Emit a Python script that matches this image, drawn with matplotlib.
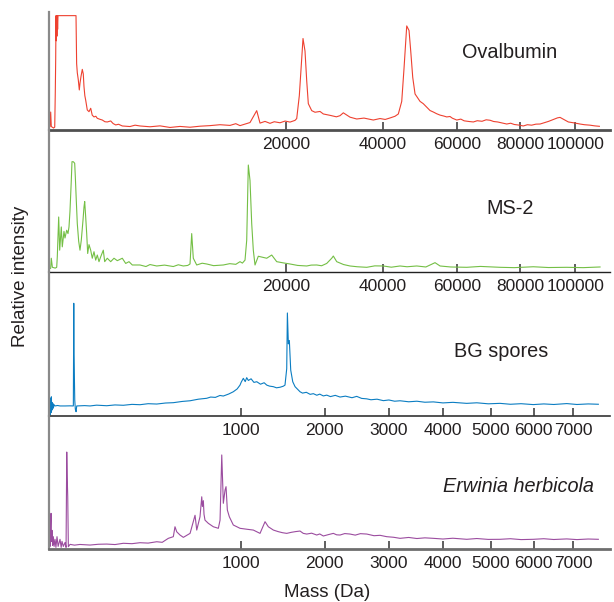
import numpy as np
import matplotlib
matplotlib.use("Agg")
import matplotlib.pyplot as plt

plt.rcParams['font.family'] = ['Liberation Sans', 'DejaVu Sans']

######################################################################
# Spectra: mass (Da) and relative intensity (%)
ova_mass = [-4.2, -2.1, -1.06, -0.44, 0.5, 2.0, 3.08, 4.0, 4.8, 5.56, 6.5, 7.5, 8.78, 10, 11.5,
            204, 215, 227, 245, 265, 279, 300, 327, 349, 365, 385, 406, 445, 490, 537, 580, 633,
            690, 737, 820, 911, 1010, 1102, 1243, 1350, 1466, 1600, 1787, 2200, 2500, 2807, 3484,
            4235, 5059, 5956, 6926, 7969, 9085, 10274, 11537, 12300, 12873, 14281, 15267, 15764,
            16531, 17318, 18000, 18947, 19800, 20650, 21527, 21830, 22296, 22968, 23336, 23652,
            23951, 24592, 25222, 26190, 26841, 28184, 29500, 30252, 30951, 32393, 33867, 35500,
            37663, 39255, 40500, 41687, 42932, 43761, 44626, 45216, 45912, 46510, 46955, 47481,
            48092, 49426, 50300, 51243, 52153, 53066, 54000, 54953, 56000, 56863, 57800, 58500,
            59785, 61000, 62000, 63500, 64796, 66000, 67500, 68800, 70045, 71200, 72500, 74000,
            75488, 76800, 78000, 79500, 81105, 82500, 84000, 85500, 86966, 88500, 90000, 91200,
            92398, 93300, 94243, 95500, 96400, 97350, 98500, 99500, 100600, 101818, 103500,
            105700, 107500, 109408]
ova_int = [2, 3, 15.7, 3, 1.7, 2.5, 33, 62, 100, 78, 100, 82, 100, 88, 100,
           100, 58, 50, 44, 35, 41, 47, 53, 49, 38, 30, 26, 17.5, 16, 19, 13, 11.4,
           12, 10.2, 9.4, 8.7, 7.2, 7, 7.9, 5.6, 4.4, 5, 3.5, 3.0, 4.2, 3.5, 2.8,
           3.6, 2.2, 3.1, 2.4, 3.3, 3.8, 4.6, 4.0, 5.5, 3.8, 6.5, 16.9, 6,
           7.5, 5.8, 7.2, 6.3, 7.8, 6.9, 8.4, 10, 30, 80, 69, 43,
           23, 16.9, 15.5, 16.2, 14, 12.8, 11.5, 12.5, 15, 11.2, 9.6, 10.4,
           8.7, 10, 9.2, 10.5, 12, 14, 25, 54, 91, 87, 69, 46,
           31.5, 25, 23, 20, 17, 15.7, 14.2, 13, 12.2, 11.4, 11.8, 10.3,
           8.7, 9.5, 8, 7.4, 7, 8.1, 7.6, 8.9, 8.5, 7.4, 7, 6.1,
           5.2, 5.9, 4.8, 4.3, 3.5, 4.6, 4.2, 5.1, 5.2, 6.4, 7.5, 8.6,
           9.6, 10.6, 11, 9.4, 8.3, 7, 6.6, 6.2, 5.7, 5.2, 4.6,
           4.2, 3.6, 3.2]

ms2_mass = [-4.2, -1.06, -0.44, 0, 3, 6.8, 8.8, 14.5, 19.5, 29, 35.8, 49.2, 58, 74.8, 89, 100.8,
            113, 130.7, 140.5, 159.8, 181.9, 191.8, 208.9, 226.8, 253, 278.6, 305.5, 342.5, 365.2,
            381.6, 405.6, 430.3, 455.8, 490, 536.5, 582, 633, 685.7, 737.4, 794.4, 853.3, 947.6,
            1000.5, 1102, 1243, 1388, 1541, 1787, 1965, 2146, 2335, 2807, 3200, 3484, 3979, 4600,
            5346, 5800, 6267, 6700, 6926, 7097, 7261, 7616, 8200, 8709, 9500, 10683, 11500, 12300,
            12873, 13200, 13568, 13808, 14037, 14281, 14528, 14762, 15013, 15505, 16797, 17590,
            18401, 19500, 20650, 22000, 23652, 24500, 25549, 26500, 27519, 28531, 28860, 29563,
            31000, 32393, 34000, 36131, 38000, 40048, 42000, 44193, 46000, 48541, 51000, 53541,
            54953, 58000, 62780, 67000, 73284, 78000, 84588, 90000, 96746, 103000, 109674]
ms2_int = [3, 3.6, 12.7, 4.5, 3.8, 4.5, 14, 50, 20, 41, 23, 37, 31, 38, 35, 41,
           55, 83, 100, 100, 98.6, 87, 65, 44, 28, 20, 29, 47, 59,
           64, 50, 35, 17, 25, 20, 12.7, 18.6, 11, 15.6, 9.6, 14, 20,
           9.6, 12.7, 9.6, 12.7, 10.5, 12.7, 8, 9.6, 6.6, 6.6, 5.2, 7, 5.7, 6.5,
           5.2, 6.8, 5.7, 6.2, 7.5, 35, 12.7, 6.6, 8.2, 7.5, 6, 6.6, 7.8, 7.2,
           9.6, 8.3, 11, 29, 97, 83, 44, 20, 6.6, 14.5, 12.7, 15.6,
           9.6, 8.5, 7.5, 6.2, 5.7, 6.5, 6.6, 5.9, 8, 12.7, 14.7, 9.6,
           7, 5.7, 5, 4.5, 5.8, 5.7, 4.6, 5.7, 5, 5.7, 4.8, 8.7,
           5.7, 4.8, 4.5, 5.3, 4.5, 4.2, 5, 4.3, 4.5, 4.2, 4.8]

bg_mass = [2.2, 2.36, 2.5, 2.7, 2.9, 3.1, 3.25, 3.45, 3.65, 3.84, 4.1, 4.4, 4.68, 5.2, 5.9, 8,
           10.3, 16, 22.9, 28.1, 28.5, 28.8, 29.2, 30.5, 31.5, 32.8, 34, 50, 62.7, 80, 111, 140,
           172.6, 210, 248, 290, 337.7, 390, 440, 500, 557, 620, 687, 720, 760, 800, 830, 880, 923,
           960, 988, 1000, 1021, 1040, 1055, 1072, 1100, 1130, 1160, 1200, 1240, 1269, 1300, 1344,
           1380, 1422, 1460, 1481, 1502, 1510, 1522, 1534, 1551, 1576, 1605, 1668, 1700, 1750,
           1800, 1843, 1890, 1930, 1980, 2028, 2080, 2150, 2220, 2300, 2400, 2473, 2550, 2632,
           2700, 2800, 2906, 3000, 3100, 3195, 3350, 3500, 3650, 3812, 4000, 4200, 4486, 4700,
           4950, 5213, 5450, 5700, 5994, 6250, 6500, 6833, 7100, 7400, 7676]
bg_int = [12, 18.6, 2, 16, 1, 14, 3, 17, 5, 12, 6, 11, 7, 10, 8.9, 9.3,
          8.9, 8.9, 9, 8.9, 60, 100, 55, 14, 6, 3.8, 8.9, 9.2, 8.9, 9.6, 9.1, 9.8,
          9.5, 10.3, 10, 10.9, 10.6, 11.5, 11.8, 12.9, 13.5, 14.9, 15.7, 16.8, 16.5, 18.2, 17.7, 19.5, 21.5,
          24, 27.4, 30, 33.4, 30.5, 34, 31.5, 33, 29.8, 30.4, 28.2, 29.5, 27.4, 26.5, 26,
          25, 25.5, 26.4, 27.4, 42, 91.4, 64, 67, 40.7, 30.4, 26, 21.5, 20.3, 21,
          19.2, 19.8, 18.4, 19.4, 17.8, 18.5, 17.2, 18.3, 16.8, 17.6, 16.2, 17.4, 15.6, 15.2,
          14.4, 14.9, 13.6, 14.2, 13.1, 13.5, 12.6, 13.1, 12.2, 12.5, 11.6, 12.1, 11.2, 11.7,
          10.8, 11.2, 10.4, 10.9, 10.1, 10.7, 10.2, 11, 10.2, 10.7, 10.4]

erw_mass = [2.2, 2.5, 2.7, 3.0, 3.25, 3.5, 3.84, 4.2, 4.68, 5.2, 5.9, 6.6, 7.5, 8.5, 10.3, 11.5,
            12.4, 13.9, 16, 17.3, 18.2, 18.8, 19.55, 20.4, 22.9, 30, 40, 62.7, 85, 111, 140,
            172.6, 210, 248, 290, 337.7, 370, 407.8, 440, 451, 462.8, 485, 508.4, 557, 594.4,
            607.5, 633, 646.8, 652, 659.6, 665, 673, 700.5, 742.6, 785.9, 801, 816.2, 824, 830.4,
            846, 855, 867, 885.4, 923, 988, 1060, 1123.7, 1195, 1250, 1287, 1344, 1400, 1450,
            1502, 1560, 1610, 1668, 1710, 1755, 1820, 1889, 1930, 1980, 2050, 2122, 2170, 2220,
            2290, 2370, 2450, 2530, 2632, 2750, 2850, 2963, 3080, 3195, 3350, 3500, 3650, 3812,
            4000, 4200, 4486, 4700, 4950, 5213, 5450, 5700, 5994, 6250, 6500, 6833, 7100, 7400,
            7676]
erw_int = [5, 13, 3, 25, 37, 8, 19.5, 4, 13, 3, 10.3, 2, 13, 3, 10.3, 2,
           8.2, 3, 7, 2, 100, 75, 54, 2.7, 5.1, 4.3, 5, 4.4, 5.2, 5.4, 4.9,
           6.2, 5.8, 6.8, 6.4, 7.8, 7.2, 11.3, 13, 23.2, 18, 14.7, 12.3, 16.4, 35,
           19.8, 33.5, 54, 44, 50, 36, 30, 26.7, 23.2, 21.6, 30, 97, 70, 47.3,
           61, 64.4, 40.4, 33.5, 25, 21.6, 20.6, 19.8, 16.4, 28.4, 23.2, 19.8, 18.2, 17.1,
           16.4, 17.5, 18.2, 18.8, 16.4, 15.7, 16.6, 14.7, 15.8, 13.7, 15.1, 16.4, 14.9, 14.7,
           16.2, 15.7, 14.6, 16.1, 15.7, 14, 14.4, 13, 12.4, 11.3, 12.2, 11.1, 11.8, 11.3,
           10.6, 11.4, 10.3, 11.1, 10.2, 10.3, 10.9, 10, 10.3, 10.9, 10.1, 10.7, 10, 10.6,
           10.3]

top_ticks = [20000, 40000, 60000, 80000, 100000]
bottom_ticks = [1000, 2000, 3000, 4000, 5000, 6000, 7000]

TEXT = '#231f20'


def fwd(m):
    # flight-time axis: position grows with the square root of mass
    m = np.asarray(m, dtype=float)
    return np.sign(m) * np.sqrt(np.abs(m))


def inv(t):
    t = np.asarray(t, dtype=float)
    return np.sign(t) * t ** 2


fig = plt.figure(figsize=(6.14, 6.02), dpi=100)

panels = [
    # mass, intensity, colour, name, italic, [l, b, w, h], ytop, xlim, ticks, axis lw, axis colour, name pos
    (ova_mass, ova_int, '#ee4130', 'Ovalbumin', False, [0.0798, 0.7841, 0.9137, 0.1960],
     103.2, (-4.2, 113700), top_ticks, 2.0, '#505050', (0.8306, 0.913)),
    (ms2_mass, ms2_int, '#74bf45', 'MS-2', False, [0.0798, 0.5477, 0.9137, 0.2364],
     128.7, (-4.2, 113700), top_ticks, 1.0, '#222222', (0.8306, 0.654)),
    (bg_mass, bg_int, '#0b7dc2', 'BG spores', False, [0.0798, 0.3090, 0.9137, 0.2387],
     127.5, (2.2, 8000), bottom_ticks, 1.2, '#333333', (0.816, 0.4158)),
    (erw_mass, erw_int, '#9b4c9f', 'Erwinia herbicola', True, [0.0798, 0.0875, 0.9137, 0.2214],
     137.0, (2.2, 8000), bottom_ticks, 2.0, '#6e6e6e', (0.845, 0.1916)),
]

for mass, inten, color, name, italic, rect, ytop, xlim, ticks, alw, acol, npos in panels:
    ax = fig.add_axes(rect)
    ax.set_xscale('function', functions=(fwd, inv))
    ax.plot(mass, inten, color=color, lw=0.8)
    ax.set_xlim(*xlim)
    ax.set_ylim(0, ytop)
    ax.set_xticks(ticks)
    ax.set_xticklabels([str(t) for t in ticks])
    ax.minorticks_off()
    ax.set_yticks([])
    ax.patch.set_visible(False)
    for side in ['top', 'right']:
        ax.spines[side].set_visible(False)
    ax.spines['left'].set_color('#8a8a8a')
    ax.spines['left'].set_linewidth(1.6)
    ax.spines['bottom'].set_color(acol)
    ax.spines['bottom'].set_linewidth(alw)
    ax.tick_params(axis='x', direction='in', length=6, width=1.1, color='#333333',
                   labelsize=12.5, labelcolor=TEXT, pad=5)
    fig.text(npos[0], npos[1], name, ha='center', va='center', fontsize=14.3, color=TEXT,
             style='italic' if italic else 'normal')

fig.text(0.033, 0.5415, 'Relative intensity', rotation=90, ha='center', va='center',
         fontsize=13.5, color=TEXT)
fig.text(0.5326, 0.015, 'Mass (Da)', ha='center', va='center', fontsize=13.5, color=TEXT)

fig.savefig('out.png', dpi=100)
